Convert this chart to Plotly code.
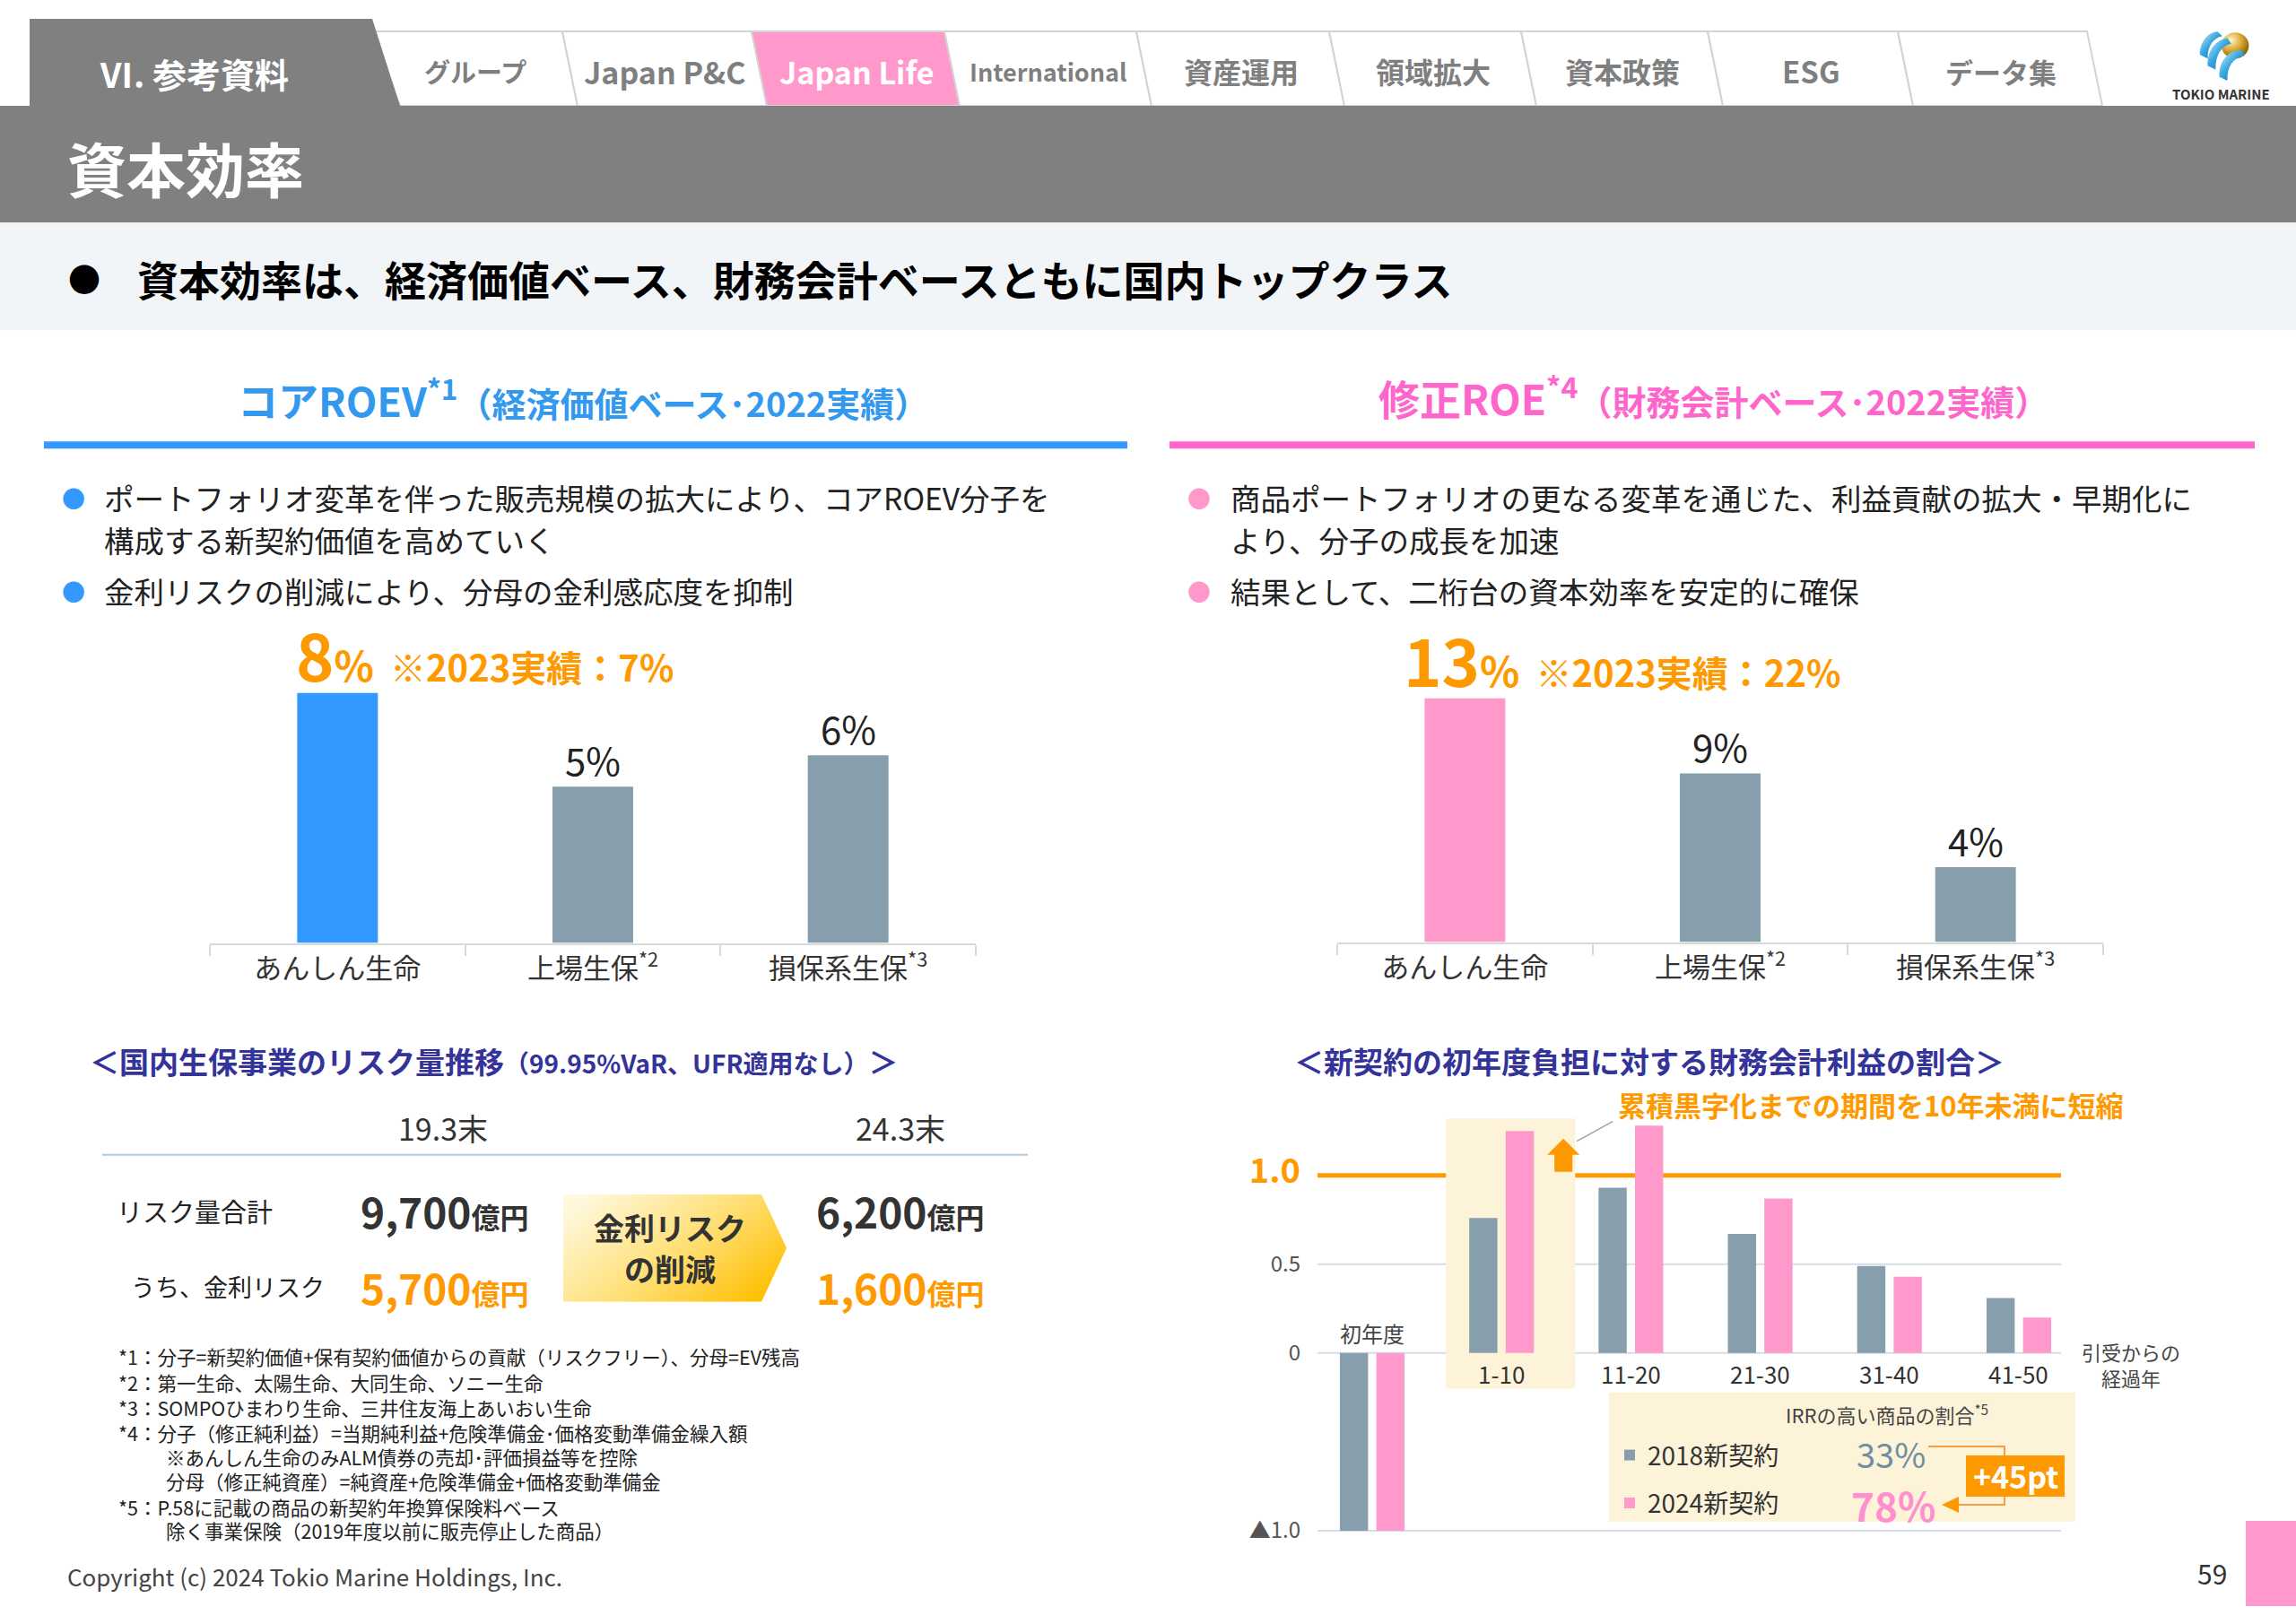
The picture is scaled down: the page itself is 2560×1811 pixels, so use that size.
import base64
import plotly.graph_objects as go

W = 2560
H_REF = 1811      # slide coordinates (px from top) are measured on a 1811-px-tall slide
H_FIG = 1825      # figure height (the capture is slightly compressed vertically)
FONT = "Noto Sans CJK JP, Noto Sans, sans-serif"

# ---------------- data ----------------
section_label = "Ⅵ. 参考資料"
tab_labels = ["グループ", "Japan P&C", "Japan Life", "International", "資産運用", "領域拡大", "資本政策", "ESG", "データ集"]
active_tab = "Japan Life"
page_title = "資本効率"
headline = "資本効率は、経済価値ベース、財務会計ベースともに国内トップクラス"

company_categories = ["あんしん生命", "上場生保<sup>*2</sup>", "損保系生保<sup>*3</sup>"]
core_roev = [8, 5, 6]            # %
core_roev_2023 = 7               # %
adjusted_roe = [13, 9, 4]        # %
adjusted_roe_2023 = 22           # %

risk_periods = ["19.3末", "24.3末"]
risk_total = [9700, 6200]        # 億円
risk_interest = [5700, 1600]     # 億円

elapsed_years = ["初年度", "1-10", "11-20", "21-30", "31-40", "41-50"]
ratio_2018 = [-1.0, 0.76, 0.93, 0.67, 0.49, 0.31]
ratio_2024 = [-1.0, 1.25, 1.28, 0.87, 0.43, 0.20]
ratio_ticks = [-1.0, 0.0, 0.5, 1.0]
ratio_ticktext = ["▲1.0", "0", "0.5", '<span style="color:#ff9900;font-size:38px"><b>1.0</b></span>']
irr_series = ["2018新契約", "2024新契約"]
irr_share = [33, 78]             # %

footnotes = [
    ("*1：分子=新契約価値+保有契約価値からの貢献（リスクフリー）、分母=EV残高", 0),
    ("*2：第一生命、太陽生命、大同生命、ソニー生命", 0),
    ("*3：SOMPOひまわり生命、三井住友海上あいおい生命", 0),
    ("*4：分子（修正純利益）=当期純利益+危険準備金･価格変動準備金繰入額", 0),
    ("※あんしん生命のみALM債券の売却･評価損益等を控除", 1),
    ("分母（修正純資産）=純資産+危険準備金+価格変動準備金", 1),
    ("*5：P.58に記載の商品の新契約年換算保険料ベース", 0),
    ("除く事業保険（2019年度以前に販売停止した商品）", 1),
]

BLUE = "#3399ff"
PINK = "#ff99cc"
PINK_DARK = "#ff66cc"
GRAYBAR = "#879fad"
ORANGE = "#ff9900"
INDIGO = "#333399"
BEIGE = "#fdf3d9"

# ---------------- helpers ----------------
def X(p):
    return p / W


def Y(p):
    return 1 - p / H_REF


annotations = []
shapes = []
images = []


def text(x, y, s, size, color="#222", bold=False, xanchor="center", yanchor="middle", pad=1):
    if bold:
        s = f"<b>{s}</b>"
    annotations.append(dict(x=X(x), y=Y(y), xref="paper", yref="paper", text=s, showarrow=False,
                            font=dict(size=size, color=color, family=FONT), borderpad=pad,
                            xanchor=xanchor, yanchor=yanchor))


def rect(x0, y0, x1, y1, fill, line=None, lw=0, layer="below"):
    shapes.append(dict(type="rect", xref="paper", yref="paper", x0=X(x0), x1=X(x1), y0=Y(y1), y1=Y(y0),
                       fillcolor=fill, line=dict(width=lw, color=line or fill), layer=layer))


def poly(pts, fill, line=None, lw=0, layer="below"):
    path = "M " + " L ".join(f"{X(a):.5f},{Y(b):.5f}" for a, b in pts) + " Z"
    shapes.append(dict(type="path", xref="paper", yref="paper", path=path, fillcolor=fill,
                       line=dict(width=lw, color=line or fill), layer=layer))


def seg(pts, color, lw, layer="above"):
    path = "M " + " L ".join(f"{X(a):.5f},{Y(b):.5f}" for a, b in pts)
    shapes.append(dict(type="path", xref="paper", yref="paper", path=path,
                       line=dict(width=lw, color=color), layer=layer))


def svg_uri(svg):
    return "data:image/svg+xml;base64," + base64.b64encode(svg.encode("utf-8")).decode()


# ---------------- header: tabs ----------------
edges = [415, 627, 838, 1053, 1267, 1482, 1696, 1904, 2116, 2327]
tab_sizes = {"グループ": 29, "International": 27, "データ集": 31, "Japan P&C": 34, "Japan Life": 34, "ESG": 33}
for i, lab in enumerate(tab_labels):
    l, r = edges[i], edges[i + 1]
    lb = 446 if i == 0 else l + 17
    fill = PINK if lab == active_tab else "#ffffff"
    poly([(l, 35), (r, 35), (r + 17, 118), (lb, 118)], fill, line="#d3d3d3", lw=2)
    col = "#ffffff" if lab == active_tab else "#7f7f7f"
    text((l + r) / 2 + 9, 79, lab, tab_sizes.get(lab, 32), col, bold=True)
poly([(33, 21), (415, 21), (446, 118), (33, 118)], "#808080")
text(216, 81, section_label, 38, "#ffffff", bold=True)

# logo
logo_svg = '''<svg xmlns="http://www.w3.org/2000/svg" viewBox="0 0 64 60">
<defs>
<radialGradient id="g" cx="0.35" cy="0.3" r="0.75"><stop offset="0" stop-color="#fff6cc"/><stop offset="0.55" stop-color="#d8a22a"/><stop offset="1" stop-color="#7a5a12"/></radialGradient>
<linearGradient id="b" x1="0" y1="0" x2="1" y2="1"><stop offset="0" stop-color="#d6f1fd"/><stop offset="0.45" stop-color="#3aa8e0"/><stop offset="1" stop-color="#0b5fa5"/></linearGradient>
</defs>
<circle cx="44" cy="20" r="14" fill="url(#g)"/>
<path d="M8 30 C8 16 16 6 26 5 L31 10 C22 12 16 20 16 34 Z" fill="url(#b)"/>
<path d="M16 42 C15 26 24 14 36 12 L40 18 C30 20 24 30 24 46 Z" fill="url(#b)"/>
<path d="M28 54 C27 38 36 26 50 25 L54 31 C42 33 36 42 36 58 Z" fill="url(#b)"/>
</svg>'''
images.append(dict(source=svg_uri(logo_svg), xref="paper", yref="paper", x=X(2444), y=Y(30),
                   sizex=(2514 - 2444) / W, sizey=(92 - 30) / H_REF, sizing="stretch",
                   xanchor="left", yanchor="top", layer="above"))
text(2476, 104, "TOKIO MARINE", 15, "#333", bold=True)

# title banner and headline band
rect(0, 118, 2560, 248, "#808080")
text(73, 186, page_title, 66, "#ffffff", bold=True, xanchor="left")
rect(0, 248, 2560, 368, "#f2f5f8")
text(94, 310, "●", 36, "#000")
text(151, 310, headline, 46, "#000", bold=True, xanchor="left")

# ---------------- section headers ----------------
text(650, 443, '<b>コアROEV<sup>*1</sup></b><span style="font-size:38px"><b>（経済価値ベース･2022実績）</b></span>',
     45, "#3399ee")
rect(49, 492, 1257, 500, BLUE)
text(1910, 441, '<b>修正ROE<sup>*4</sup></b><span style="font-size:38px"><b>（財務会計ベース･2022実績）</b></span>',
     46, PINK_DARK)
rect(1304, 492, 2514, 500, PINK_DARK)

# bullets
for (bx, tx, col), lines in [((82, 114, BLUE), [(554, "ポートフォリオ変革を伴った販売規模の拡大により、コアROEV分子を", True),
                                                  (601, "構成する新契約価値を高めていく", False),
                                                  (658, "金利リスクの削減により、分母の金利感応度を抑制", True)]),
                             ((1337, 1370, PINK), [(554, "商品ポートフォリオの更なる変革を通じた、利益貢献の拡大・早期化に", True),
                                                   (601, "より、分子の成長を加速", False),
                                                   (658, "結果として、二桁台の資本効率を安定的に確保", True)])]:
    for y, s, dot in lines:
        if dot:
            text(bx, y, "●", 26, col)
        text(tx, y, s, 33.5, "#222", xanchor="left")

# ---------------- bar charts (top) ----------------
fig = go.Figure()
fig.add_trace(go.Bar(x=company_categories, y=core_roev, width=0.316,
                     marker=dict(color=[BLUE, GRAYBAR, GRAYBAR], line=dict(width=0)),
                     showlegend=False, hoverinfo="skip", xaxis="x", yaxis="y"))
fig.add_trace(go.Bar(x=company_categories, y=adjusted_roe, width=0.316,
                     marker=dict(color=[PINK, GRAYBAR, GRAYBAR], line=dict(width=0)),
                     showlegend=False, hoverinfo="skip", xaxis="x2", yaxis="y2"))

for axx, axy, vals, note, shift in [("x", "y", core_roev, core_roev_2023, -48),
                                    ("x2", "y2", adjusted_roe, adjusted_roe_2023, -70)]:
    for i, (c, v) in enumerate(zip(company_categories, vals)):
        if i == 0:
            s = (f'<b><span style="font-size:72px">{v}</span><span style="font-size:46px">%</span>'
                 f'<span style="font-size:40px">  ※2023実績：{note}%</span></b>')
            annotations.append(dict(x=c, y=v, xref=axx, yref=axy, text=s, showarrow=False,
                                    xanchor="left", yanchor="bottom", xshift=shift, yshift=-10,
                                    font=dict(size=40, color=ORANGE, family=FONT)))
        else:
            annotations.append(dict(x=c, y=v, xref=axx, yref=axy, text=f"{v}%", showarrow=False,
                                    xanchor="center", yanchor="bottom", yshift=-2,
                                    font=dict(size=42, color="#222", family=FONT)))

# ---------------- risk table (bottom left) ----------------
text(98, 1182, '＜国内生保事業のリスク量推移<span style="font-size:28px">（99.95%VaR、UFR適用なし）</span>＞',
     33, INDIGO, bold=True, xanchor="left")
text(494, 1257, risk_periods[0], 34, "#333")
text(1004, 1257, risk_periods[1], 34, "#333")
rect(114, 1286, 1146, 1288, "#b4c7dc")
text(128, 1349, "リスク量合計", 29, "#222", xanchor="left")
text(144, 1434, "うち、金利リスク", 27, "#222", xanchor="left")
for cx, tot, intr in [(496, risk_total[0], risk_interest[0]), (1004, risk_total[1], risk_interest[1])]:
    text(cx, 1349, f'<b>{tot:,}<span style="font-size:32px">億円</span></b>', 46, "#333")
    text(cx, 1434, f'<b>{intr:,}<span style="font-size:32px">億円</span></b>', 46, ORANGE)

pent_svg = ('<svg xmlns="http://www.w3.org/2000/svg" viewBox="0 0 249 120" preserveAspectRatio="none">'
            '<defs><linearGradient id="p" x1="0" y1="0.2" x2="1" y2="0.8">'
            '<stop offset="0" stop-color="#fff8dc"/><stop offset="0.55" stop-color="#ffde70"/>'
            '<stop offset="1" stop-color="#ffbf00"/></linearGradient></defs>'
            '<polygon points="0,0 221,0 249,60 221,120 0,120" fill="url(#p)"/></svg>')
images.append(dict(source=svg_uri(pent_svg), xref="paper", yref="paper", x=X(628), y=Y(1331),
                   sizex=(877 - 628) / W, sizey=(1451 - 1331) / H_REF, sizing="stretch",
                   xanchor="left", yanchor="top", layer="above"))
text(747, 1368, "金利リスク", 34, "#333", bold=True, pad=0)
text(747, 1414, "の削減", 34, "#333", bold=True, pad=0)

fy = [1512, 1541, 1569, 1597, 1624, 1651, 1680, 1706]
for (s, ind), yy in zip(footnotes, fy):
    text(184 if ind else 131, yy, s, 21.5, "#222", xanchor="left", pad=0)

text(73, 1757, "Copyright (c) 2024 Tokio Marine Holdings, Inc.", 26, "#444", xanchor="left")

# ---------------- bottom right chart ----------------
text(1839, 1182, "＜新契約の初年度負担に対する財務会計利益の割合＞", 33, INDIGO, bold=True)
text(1802, 1231, "累積黒字化までの期間を10年未満に短縮", 31, ORANGE, bold=True, xanchor="left")

idx = list(range(len(elapsed_years)))
# highlight band behind 1-10
shapes.append(dict(type="rect", xref="x3", yref="y3", x0=0.57, x1=1.57, y0=-0.2, y1=1.32,
                   fillcolor=BEIGE, line=dict(width=0), layer="below"))
for t in ratio_ticks[:-1]:
    shapes.append(dict(type="line", xref="x3 domain", yref="y3", x0=0, x1=1, y0=t, y1=t,
                       line=dict(color="#d5dee8", width=2), layer="below"))
shapes.append(dict(type="line", xref="x3 domain", yref="y3", x0=0, x1=1, y0=1.0, y1=1.0,
                   line=dict(color=ORANGE, width=5), layer="below"))

fig.add_trace(go.Bar(x=idx, y=ratio_2018, width=0.218, offset=-0.25, name=irr_series[0],
                     marker=dict(color=GRAYBAR, line=dict(width=0)), legendgroup="a",
                     hoverinfo="skip", xaxis="x3", yaxis="y3"))
fig.add_trace(go.Bar(x=idx, y=ratio_2024, width=0.218, offset=0.032, name=irr_series[1],
                     marker=dict(color=PINK, line=dict(width=0)), legendgroup="b",
                     hoverinfo="skip", xaxis="x3", yaxis="y3"))

# up arrow in highlight band
arrow = [(1.409, 1.02), (1.548, 1.02), (1.548, 1.116), (1.603, 1.116), (1.478, 1.207),
         (1.354, 1.116), (1.409, 1.116)]
shapes.append(dict(type="path", xref="x3", yref="y3",
                   path="M " + " L ".join(f"{a},{b}" for a, b in arrow) + " Z",
                   fillcolor=ORANGE, line=dict(width=0), layer="above"))
seg([(1758, 1272), (1798, 1250)], "#9aa5b0", 1.5)

for i, c in zip(idx, elapsed_years):
    if i == 0:
        annotations.append(dict(x=i, y=0, xref="x3", yref="y3", text=c, showarrow=False,
                                yanchor="bottom", yshift=3, font=dict(size=24, color="#444", family=FONT)))
    else:
        annotations.append(dict(x=i, y=0, xref="x3", yref="y3", text=c, showarrow=False,
                                yanchor="top", yshift=-2, font=dict(size=26, color="#333", family=FONT)))
text(2376, 1521, "引受からの<br>経過年", 22, "#444")

# IRR box
rect(1794, 1552, 2314, 1696, BEIGE)
text(2104, 1576, "IRRの高い商品の割合<sup>*5</sup>", 22, "#444", pad=0)
text(2108, 1620, f"{irr_share[0]}%", 38, "#6f8ea3", pad=0)
text(2111, 1677, f"{irr_share[1]}%", 44, "#ff8fcf", bold=True, pad=0)
seg([(2150, 1612), (2235, 1612), (2235, 1677), (2182, 1677)], "#f5a040", 2)
poly([(2165, 1677), (2184, 1668), (2184, 1686)], ORANGE, layer="above")
rect(2192, 1622, 2302, 1668, ORANGE, layer="above")
text(2247, 1645, f"+{irr_share[1] - irr_share[0]}pt", 34, "#ffffff", bold=True)

# page number
text(2466, 1753, "59", 30, "#333")
rect(2504, 1695, 2560, 1790, PINK)

# ---------------- layout ----------------
cat_axis = dict(type="category", showline=True, linecolor="#d9d9d9", linewidth=2, ticks="outside",
                tickson="boundaries", ticklen=12, tickcolor="#d9d9d9", tickwidth=2,
                tickfont=dict(size=31, color="#333", family=FONT), showgrid=False, zeroline=False,
                fixedrange=True)
hidden_y = dict(showgrid=False, zeroline=False, showticklabels=False, showline=False, ticks="",
                fixedrange=True)

fig.update_layout(
    width=W, height=H_FIG, margin=dict(l=0, r=0, t=0, b=0), autosize=False,
    paper_bgcolor="#ffffff", plot_bgcolor="rgba(0,0,0,0)",
    font=dict(family=FONT, color="#333"),
    barmode="overlay",
    xaxis=dict(domain=[X(234), X(1088)], anchor="y", **cat_axis),
    yaxis=dict(domain=[Y(1051), Y(702.5)], anchor="x", range=[0, 10], **hidden_y),
    xaxis2=dict(domain=[X(1491), X(2345)], anchor="y2", **cat_axis),
    yaxis2=dict(domain=[Y(1050), Y(715.6)], anchor="x2", range=[0, 16], **hidden_y),
    xaxis3=dict(domain=[X(1469), X(2298)], anchor="y3", range=[-0.423, 5.326], showgrid=False,
                zeroline=False, showticklabels=False, showline=False, ticks="", fixedrange=True),
    yaxis3=dict(domain=[Y(1708), Y(1240.7)], anchor="x3", range=[-1.01, 1.35], tickvals=ratio_ticks,
                ticktext=ratio_ticktext, showgrid=False, zeroline=False, showline=False, ticks="",
                ticklabelstandoff=18, tickfont=dict(size=24, color="#555", family=FONT), fixedrange=True),
    showlegend=True,
    legend=dict(x=X(1797), y=Y(1597), xanchor="left", yanchor="top", bgcolor="rgba(0,0,0,0)",
                font=dict(size=28, color="#333", family=FONT), traceorder="grouped", tracegroupgap=14,
                itemclick=False, itemdoubleclick=False),
    annotations=annotations, shapes=shapes, images=images,
)

post = ("document.documentElement.style.margin='0';document.documentElement.style.overflow='hidden';"
        "document.body.style.margin='0';document.body.style.padding='0';document.body.style.overflow='hidden';"
        "var gd=document.getElementById('{plot_id}');gd.style.display='block';")
fig.write_html("out.html", config={"displayModeBar": False}, post_script=post)
